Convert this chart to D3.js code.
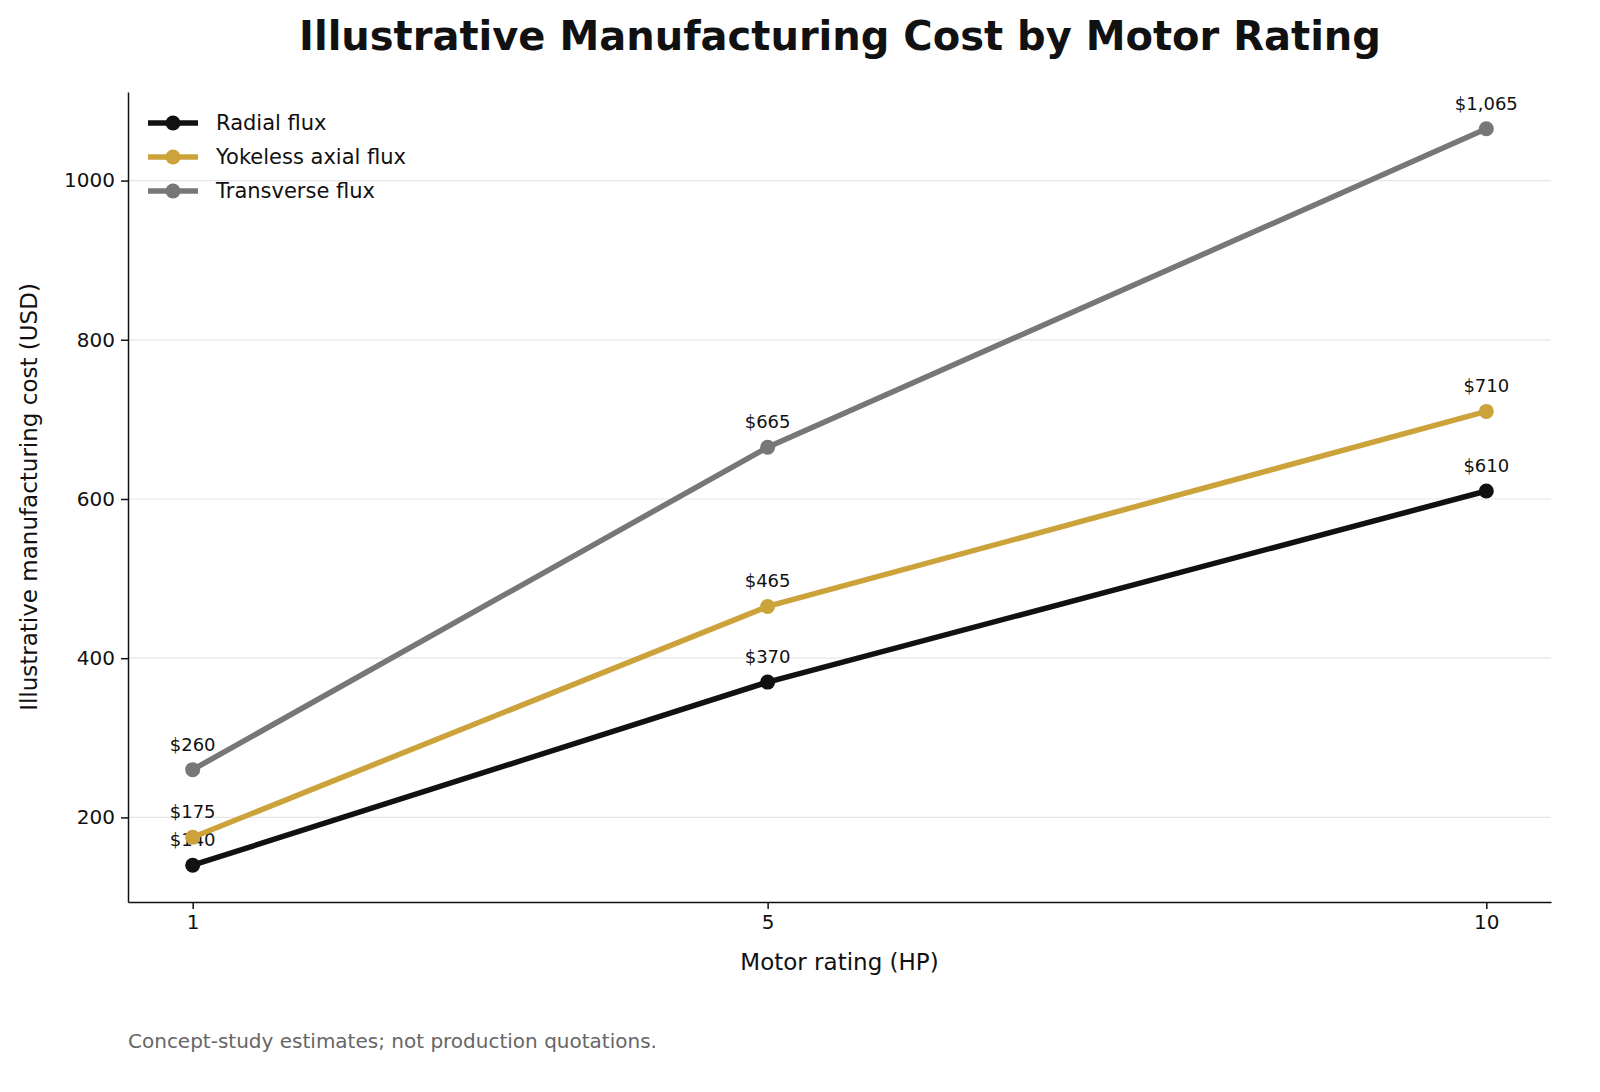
<!DOCTYPE html>
<html><head><meta charset="utf-8">
<script src="https://cdn.jsdelivr.net/npm/d3@7"></script>
<style>body{margin:0;background:#fff}text{font-family:"DejaVu Sans",sans-serif}</style>
</head><body><div id="chart"></div>
<script>
const ratings = [1, 5, 10];
const radial = [140, 370, 610];
const yokeless = [175, 465, 710];
const transverse = [260, 665, 1065];
const yTicks = [200, 400, 600, 800, 1000];

const width = 1600, height = 1092;
const m = {left: 128, right: 1551, top: 92, bottom: 902};

const series = [
  {name: "Radial flux", values: radial, color: "#111111"},
  {name: "Yokeless axial flux", values: yokeless, color: "#cca23a"},
  {name: "Transverse flux", values: transverse, color: "#777777"}
];

const svg = d3.select("#chart").append("svg")
  .attr("width", width).attr("height", height);

const x = d3.scaleLinear().domain([0.55, 10.45]).range([m.left, m.right]);
const y = d3.scaleLinear().domain([93.75, 1111.25]).range([m.bottom, m.top]);

// grid
svg.selectAll(".grid").data(yTicks).enter().append("line")
  .attr("x1", m.left).attr("x2", m.right)
  .attr("y1", d => y(d)).attr("y2", d => y(d))
  .attr("stroke", "#e6e6e6").attr("stroke-width", 1.2);

const xAxis = svg.append("g").attr("transform", `translate(0,${m.bottom})`)
  .call(d3.axisBottom(x).tickValues(ratings).tickSize(7).tickSizeOuter(0).tickPadding(6).tickFormat(d3.format("d")));
const yAxis = svg.append("g").attr("transform", `translate(${m.left},0)`)
  .call(d3.axisLeft(y).tickValues(yTicks).tickSize(7).tickSizeOuter(0).tickPadding(6).tickFormat(d3.format("d")));
[xAxis, yAxis].forEach(a => {
  a.selectAll("text").attr("font-size", 20).attr("fill", "#111");
  a.selectAll("line,path").attr("stroke", "#111").attr("stroke-width", 1.5);
});

const line = d3.line().x((d, i) => x(ratings[i])).y(d => y(d));

series.forEach(s => {
  svg.append("path").attr("d", line(s.values))
    .attr("fill", "none").attr("stroke", s.color).attr("stroke-width", 5.5);
  svg.selectAll(null).data(s.values).enter().append("circle")
    .attr("cx", (d, i) => x(ratings[i])).attr("cy", d => y(d))
    .attr("r", 7.5).attr("fill", s.color);
  svg.selectAll(null).data(s.values).enter().append("text")
    .attr("x", (d, i) => x(ratings[i])).attr("y", d => y(d) - 19)
    .attr("text-anchor", "middle").attr("font-size", 18).attr("fill", "#111")
    .text(d => "$" + d3.format(",")(d));
});

// legend
series.forEach((s, i) => {
  const ly = 123 + i * 34;
  svg.append("line").attr("x1", 148).attr("x2", 198).attr("y1", ly).attr("y2", ly)
    .attr("stroke", s.color).attr("stroke-width", 5.5);
  svg.append("circle").attr("cx", 173).attr("cy", ly).attr("r", 7.5).attr("fill", s.color);
  svg.append("text").attr("x", 216).attr("y", ly + 7).attr("font-size", 21)
    .attr("fill", "#111").text(s.name);
});

svg.append("text").attr("x", 840).attr("y", 50).attr("text-anchor", "middle")
  .attr("font-size", 40).attr("font-weight", "bold").attr("fill", "#111")
  .text("Illustrative Manufacturing Cost by Motor Rating");
svg.append("text").attr("x", (m.left + m.right) / 2).attr("y", 970).attr("text-anchor", "middle")
  .attr("font-size", 23).attr("fill", "#111").text("Motor rating (HP)");
svg.append("text").attr("transform", `translate(37,${(m.top + m.bottom) / 2}) rotate(-90)`)
  .attr("text-anchor", "middle").attr("font-size", 23).attr("fill", "#111")
  .text("Illustrative manufacturing cost (USD)");
svg.append("text").attr("x", 128).attr("y", 1048).attr("font-size", 20)
  .attr("fill", "#666").text("Concept-study estimates; not production quotations.");
</script></body></html>
